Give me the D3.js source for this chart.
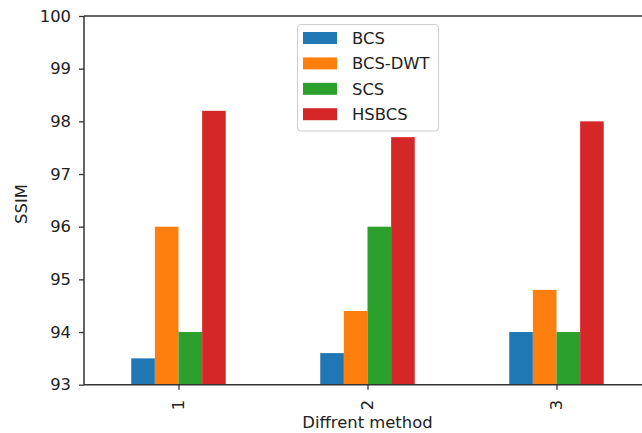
<!DOCTYPE html>
<html><head><meta charset="utf-8">
<script src="https://cdn.jsdelivr.net/npm/d3@7"></script>
<style>body{margin:0;background:#fff;} text{font-family:"DejaVu Sans",sans-serif;}</style>
</head><body>
<svg id="c" width="642" height="433"></svg>
<script>
const categories = ["1", "2", "3"];
const seriesNames = ["BCS", "BCS-DWT", "SCS", "HSBCS"];
const BCS = [93.5, 93.6, 94.0];
const BCS_DWT = [96.0, 94.4, 94.8];
const SCS = [94.0, 96.0, 94.0];
const HSBCS = [98.2, 97.7, 98.0];
const yTicks = [93, 94, 95, 96, 97, 98, 99, 100];
const colors = ["#1f77b4", "#ff7f0e", "#2ca02c", "#d62728"];
const seriesValues = [BCS, BCS_DWT, SCS, HSBCS];

const svg = d3.select("#c");
const L = 84, R = 651, T = 16, B = 384.7;
const FS = 16.4;
const x = d3.scaleLinear().domain([-0.5, 2.5]).range([L, R]);
const y = d3.scaleLinear().domain([93, 100]).range([B, T]);
const bw = 0.5 / seriesNames.length;

const g = svg.append("g");
seriesValues.forEach((vals, si) => {
  g.selectAll(null).data(vals).enter().append("rect")
    .attr("x", (d, i) => x(i - 0.25 + si * bw))
    .attr("width", x(bw) - x(0))
    .attr("y", d => y(d))
    .attr("height", d => y(93) - y(d))
    .attr("fill", colors[si]);
});

// y axis
const ya = svg.append("g").attr("transform", `translate(${L},0)`)
  .call(d3.axisLeft(y).tickValues(yTicks).tickFormat(d3.format("d")).tickSize(5).tickPadding(8));
ya.select(".domain").remove();
ya.selectAll("line").attr("stroke", "#333").attr("stroke-width", 1.3);
ya.selectAll("text").attr("font-size", FS).attr("fill", "#222").attr("font-family", "DejaVu Sans");

// x axis
const xa = svg.append("g").attr("transform", `translate(0,${B})`)
  .call(d3.axisBottom(x).tickValues([0, 1, 2]).tickFormat(i => categories[i]).tickSize(5).tickPadding(5));
xa.select(".domain").remove();
xa.selectAll("line").attr("stroke", "#333").attr("stroke-width", 1.3);
xa.selectAll("text").attr("font-size", FS).attr("fill", "#222").attr("font-family", "DejaVu Sans")
  .attr("transform", "rotate(-90)").attr("text-anchor", "end").attr("x", -15).attr("y", -1).attr("dy", "0.35em");

// spines
const sp = svg.append("g").attr("stroke", "#333").attr("stroke-width", 1.5).attr("fill", "none");
sp.append("line").attr("x1", L).attr("x2", L).attr("y1", T).attr("y2", B);
sp.append("line").attr("x1", L).attr("x2", R).attr("y1", T).attr("y2", T);
sp.append("line").attr("x1", L).attr("x2", R).attr("y1", B).attr("y2", B);
sp.append("line").attr("x1", R).attr("x2", R).attr("y1", T).attr("y2", B);

// labels
svg.append("text").attr("x", (L + R) / 2).attr("y", 428).attr("text-anchor", "middle")
  .attr("font-size", FS).attr("fill", "#222").text("Diffrent method");
svg.append("text").attr("transform", `translate(27,204) rotate(-90)`).attr("text-anchor", "middle")
  .attr("font-size", FS).attr("fill", "#222").text("SSIM");

// legend
const lg = svg.append("g");
lg.append("rect").attr("x", 297.5).attr("y", 24.5).attr("width", 141).attr("height", 106.5)
  .attr("rx", 3).attr("fill", "#fff").attr("fill-opacity", 0.8).attr("stroke", "#ccc").attr("stroke-width", 1);
seriesNames.forEach((n, i) => {
  const cy = 38 + i * 25.4;
  lg.append("rect").attr("x", 303).attr("y", cy - 6).attr("width", 34).attr("height", 12).attr("fill", colors[i]);
  lg.append("text").attr("x", 352).attr("y", cy).attr("dy", "0.36em").attr("font-size", FS).attr("fill", "#222").text(n);
});
</script>
</body></html>
